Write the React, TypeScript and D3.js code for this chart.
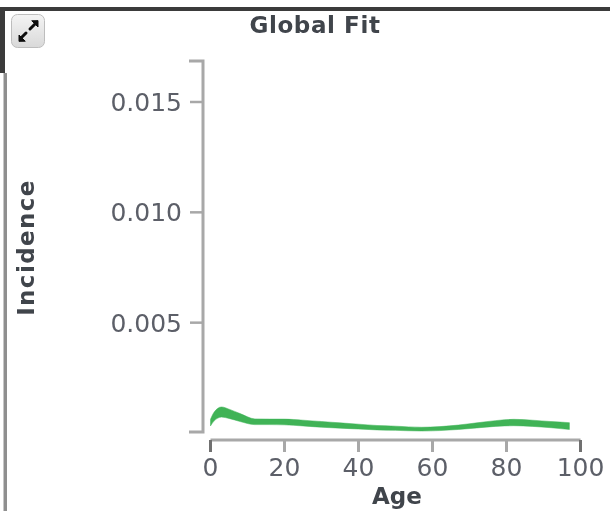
import React from "react";
import * as d3 from "d3";

const ages = [0, 1, 3, 5, 8, 12, 16, 20, 25, 30, 35, 40, 45, 50, 57, 62, 67, 72, 77, 82, 87, 92, 97];
const upper = [0.00062, 0.00095, 0.00118, 0.00108, 0.00088, 0.00064, 0.00063, 0.00063, 0.00058, 0.00052, 0.00046, 0.00040, 0.00034, 0.00031, 0.00026, 0.00029, 0.00036, 0.00046, 0.00056, 0.00062, 0.00058, 0.00052, 0.00047];
const lower = [0.00032, 0.00055, 0.00072, 0.00066, 0.00052, 0.00038, 0.00038, 0.00037, 0.00032, 0.00026, 0.00022, 0.00018, 0.00014, 0.00012, 0.00009, 0.00011, 0.00016, 0.00023, 0.00030, 0.00033, 0.00030, 0.00024, 0.00016];
const xTicks = [0, 20, 40, 60, 80, 100];
const yTicks = [0.005, 0.01, 0.015];
const title = "Global Fit";
const xLabel = "Age";
const yLabel = "Incidence";

const font = "'DejaVu Sans', Verdana, sans-serif";
const axisColor = "#a8a8a8";
const endTickColor = "#6f6f6f";
const textColor = "#5c5f68";
const boldColor = "#41444c";

export default function App() {
  const x = d3.scaleLinear().domain([0, 100]).range([210.5, 580.5]);
  const y = d3.scaleLinear().domain([0, 0.015]).range([433, 102]);
  const band = d3
    .area<number>()
    .x((d) => x(d))
    .y0((_, i) => y(lower[i]))
    .y1((_, i) => y(upper[i]))
    .curve(d3.curveMonotoneX);
  const yTop = 61;
  const yBottom = 432;
  const yAxisX = 203;
  const xAxisY = 440;
  return (
    <svg
      width={610}
      height={511}
      style={{ position: "fixed", left: 0, top: 0, display: "block", background: "#fff" }}
    >
      <defs>
        <filter id="soft" x="-5%" y="-5%" width="110%" height="110%">
          <feGaussianBlur stdDeviation="0.7" />
        </filter>
        <linearGradient id="btn" x1="0" y1="0" x2="0" y2="1">
          <stop offset="0" stopColor="#f4f4f4" />
          <stop offset="1" stopColor="#d9d9d9" />
        </linearGradient>
      </defs>
      <g filter="url(#soft)">
        <rect x={0} y={7} width={610} height={4} fill="#3a3a3a" />
        <rect x={0} y={11} width={5} height={62} fill="#3a3a3a" />
        <rect x={3.5} y={73} width={3.5} height={438} fill="#8f8f8f" />

        <rect x={11.5} y={14.5} width={33} height={33} rx={6} fill="url(#btn)" stroke="#bdbdbd" />
        <g stroke="#111" strokeWidth={3} fill="#111" strokeLinecap="round">
          <path d="M21 38 L26 33" />
          <path d="M30 29 L35 24" />
          <path d="M19 41 L19 35 L25 41 Z" strokeWidth={1} />
          <path d="M38 21 L38 27 L32 21 Z" strokeWidth={1} />
        </g>

        <text
          x={315}
          y={33}
          textAnchor="middle"
          fontFamily={font}
          fontWeight="bold"
          fontSize={23}
          letterSpacing={0.6}
          fill={boldColor}
        >
          {title}
        </text>

        <path
          d={`M${yAxisX - 14},${yTop} H${yAxisX} V${yBottom} H${yAxisX - 14}`}
          fill="none"
          stroke={axisColor}
          strokeWidth={3}
        />
        {yTicks.map((t) => (
          <g key={t}>
            <line x1={yAxisX - 13} x2={yAxisX} y1={y(t)} y2={y(t)} stroke={axisColor} strokeWidth={2.5} />
            <text x={182} y={y(t) + 9} textAnchor="end" fontFamily={font} fontSize={25} fill={textColor}>
              {t.toFixed(3)}
            </text>
          </g>
        ))}

        <path d={`M${x(0)},${xAxisY} H${x(100)}`} fill="none" stroke={axisColor} strokeWidth={3} />
        {xTicks.map((t) => (
          <g key={t}>
            <line
              x1={x(t)}
              x2={x(t)}
              y1={xAxisY}
              y2={xAxisY + 12}
              stroke={t === 0 || t === 100 ? endTickColor : axisColor}
              strokeWidth={3}
            />
            <text x={x(t)} y={476} textAnchor="middle" fontFamily={font} fontSize={25} fill={textColor}>
              {t}
            </text>
          </g>
        ))}

        <path d={band(ages) ?? ""} fill="#3fb356" stroke="#3fb356" strokeWidth={0.5} />

        <text x={397} y={504} textAnchor="middle" fontFamily={font} fontWeight="bold" fontSize={23} fill={boldColor}>
          {xLabel}
        </text>
        <text
          transform="translate(34,247.5) rotate(-90)"
          textAnchor="middle"
          fontFamily={font}
          fontWeight="bold"
          fontSize={23}
          letterSpacing={1.4}
          fill={boldColor}
        >
          {yLabel}
        </text>
      </g>
    </svg>
  );
}
